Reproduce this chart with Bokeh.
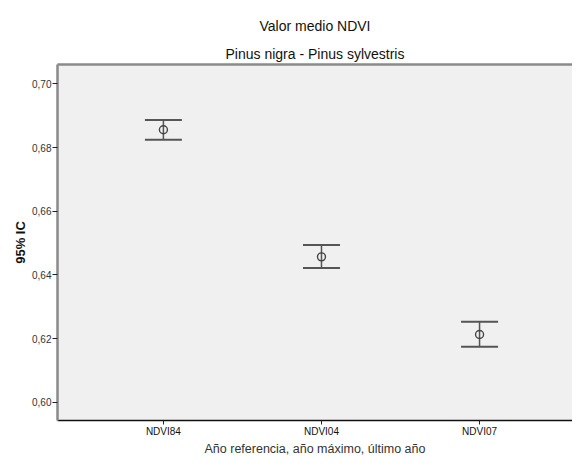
from bokeh.plotting import figure
from bokeh.models import (Range1d, FixedTicker, LinearAxis, Title, ColumnDataSource,
                          Whisker, TeeHead)
from bokeh.embed import file_html
from bokeh.resources import INLINE

categories = ["NDVI84", "NDVI04", "NDVI07"]
mean_ndvi = [0.6856, 0.6457, 0.6213]
ci_lower = [0.6825, 0.6422, 0.6175]
ci_upper = [0.6887, 0.6494, 0.6253]
y_ticks = [0.60, 0.62, 0.64, 0.66, 0.68, 0.70]
y_tick_labels = ["0,60", "0,62", "0,64", "0,66", "0,68", "0,70"]

FONT = "Liberation Sans"
xs = list(range(len(categories)))
src = ColumnDataSource(dict(x=xs, mean=mean_ndvi, lo=ci_lower, hi=ci_upper))

p = figure(width=572, height=458, output_backend="svg", toolbar_location=None,
           title=None,
           x_range=Range1d(-0.67, 2.588), y_range=Range1d(0.5943, 0.7061),
           min_border_left=57, min_border_right=0, min_border_top=0, min_border_bottom=30,
           x_axis_location=None, y_axis_location=None)
p.background_fill_color = "#f0f0f0"
p.border_fill_color = "white"
p.outline_line_color = None
p.xgrid.visible = False
p.ygrid.visible = False

# top border (closest to plot)
tax = LinearAxis(ticker=FixedTicker(ticks=[]))
tax.axis_line_color = "#8a8a8a"
tax.axis_line_width = 2.5
tax.major_tick_out = 0
tax.major_tick_in = 0
tax.minor_tick_line_color = None
tax.major_label_text_font_size = "0px"
tax.major_label_standoff = 0
p.add_layout(tax, "above")

p.add_layout(Title(text="Pinus nigra - Pinus sylvestris", align="center", text_font=FONT,
                   text_font_size="14px", text_font_style="normal",
                   text_color="#111111", standoff=5), "above")
p.add_layout(Title(text="Valor medio NDVI", align="center", text_font=FONT,
                   text_font_size="14px", text_font_style="normal",
                   text_color="#111111", standoff=15), "above")
p.add_layout(Title(text=" ", text_font_size="6px", standoff=0), "above")

# y axis
yax = LinearAxis(ticker=FixedTicker(ticks=y_ticks), axis_label="95% IC")
yax.major_label_overrides = {t: l for t, l in zip(y_ticks, y_tick_labels)}
yax.axis_line_color = "#8a8a8a"
yax.axis_line_width = 2.5
yax.major_tick_line_color = "#222222"
yax.major_tick_out = 5
yax.major_tick_in = 0
yax.minor_tick_line_color = None
yax.major_label_text_font = FONT
yax.major_label_text_font_size = "10px"
yax.major_label_text_color = "#333333"
yax.major_label_standoff = 1
yax.axis_label_text_font = FONT
yax.axis_label_text_font_size = "13px"
yax.axis_label_text_font_style = "bold"
yax.axis_label_text_color = "#111111"
yax.axis_label_standoff = 1
p.add_layout(yax, "left")

# x axis
xax = LinearAxis(ticker=FixedTicker(ticks=xs),
                 axis_label="Año referencia, año máximo, último año")
xax.major_label_overrides = {i: c for i, c in zip(xs, categories)}
xax.axis_line_color = "#111111"
xax.axis_line_width = 1.5
xax.major_tick_line_color = "#222222"
xax.major_tick_out = 4
xax.major_tick_in = 0
xax.minor_tick_line_color = None
xax.major_label_text_font = FONT
xax.major_label_text_font_size = "10px"
xax.major_label_text_color = "#111111"
xax.major_label_standoff = 1
xax.axis_label_text_font = FONT
xax.axis_label_text_font_size = "12.5px"
xax.axis_label_text_font_style = "normal"
xax.axis_label_text_color = "#333333"
xax.axis_label_standoff = 2
p.add_layout(xax, "below")

w = Whisker(source=src, base="x", lower="lo", upper="hi", dimension="height",
            line_color="#555555", line_width=1.5,
            upper_head=TeeHead(size=37, line_color="#555555", line_width=2),
            lower_head=TeeHead(size=37, line_color="#555555", line_width=2))
p.add_layout(w)
p.scatter(x="x", y="mean", source=src, marker="circle", size=8,
          fill_color=None, line_color="#444444", line_width=1.4)

open("out.html", "w").write(file_html(p, INLINE))
